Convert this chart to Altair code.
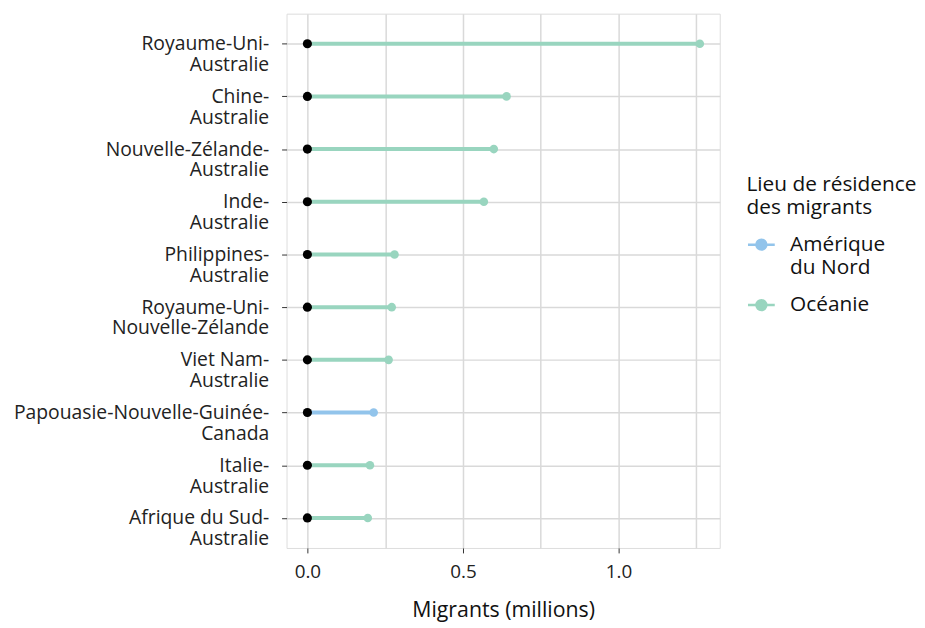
import altair as alt
import pandas as pd

pairs = [
    "Royaume-Uni-|Australie",
    "Chine-|Australie",
    "Nouvelle-Zélande-|Australie",
    "Inde-|Australie",
    "Philippines-|Australie",
    "Royaume-Uni-|Nouvelle-Zélande",
    "Viet Nam-|Australie",
    "Papouasie-Nouvelle-Guinée-|Canada",
    "Italie-|Australie",
    "Afrique du Sud-|Australie",
]
migrants = [1.261, 0.640, 0.599, 0.567, 0.280, 0.271, 0.261, 0.213, 0.201, 0.194]
regions = ["Océanie"] * 7 + ["Amérique du Nord"] + ["Océanie"] * 2
region_domain = ["Amérique du Nord", "Océanie"]
region_colors = ["#92c4eb", "#99d5bf"]
x_grid_values = [0, 0.25, 0.5, 0.75, 1.0, 1.25]

df = pd.DataFrame({"pair": pairs, "value": migrants, "region": regions, "zero": [0.0] * len(pairs)})

FONT = "Open Sans"

y_enc = alt.Y(
    "pair:N",
    sort=None,
    title=None,
    scale=alt.Scale(type="point", padding=0.57),
    axis=alt.Axis(
        labelExpr="split(datum.label, '|')",
        labelFontSize=19.5,
        labelLineHeight=21,
        labelColor="#222222",
        labelPadding=13,
        labelLimit=400,
        tickSize=5,
        tickColor="#333333",
        domain=False,
        grid=True,
        gridColor="#d9d9d9",
        gridWidth=1.5,
        labelFont=FONT,
    ),
)

x_scale = alt.Scale(domain=[-0.067, 1.325], nice=False, zero=False)
x_axis = alt.Axis(
    values=x_grid_values,
    labelExpr="datum.value % 0.5 == 0 ? format(datum.value, '.1f') : ''",
    tickOpacity=alt.condition("datum.value % 0.5 == 0", alt.value(1), alt.value(0)),
    title="Migrants (millions)",
    titleFontSize=21.5,
    titleFontWeight="normal",
    titleFont=FONT,
    titleColor="#111111",
    titlePadding=18,
    labelFontSize=19,
    labelFont=FONT,
    labelColor="#222222",
    labelPadding=10,
    tickSize=5,
    tickColor="#333333",
    domain=False,
    grid=True,
    gridColor="#d9d9d9",
    gridWidth=1.5,
)

color_enc = alt.Color(
    "region:N",
    scale=alt.Scale(domain=region_domain, range=region_colors),
    legend=alt.Legend(
        title=["Lieu de résidence", "des migrants"],
        titleFontSize=21,
        titleFontWeight="normal",
        titleFont=FONT,
        titleColor="#111111",
        titleLineHeight=23,
        titlePadding=12,
        labelFontSize=21,
        labelFont=FONT,
        labelColor="#111111",
        labelLimit=300,
        labelExpr="datum.label == 'Amérique du Nord' ? ['Amérique', 'du Nord'] : datum.label",
        symbolType="M-1,0L1,0M-0.37,0A0.37,0.37,0,1,0,0.37,0A0.37,0.37,0,1,0,-0.37,0Z",
        symbolSize=729,
        symbolStrokeWidth=2.5,
        symbolOpacity=1,
        labelOffset=14,
        rowPadding=12,
        orient="none",
        legendX=464,
        legendY=162,
    ),
)

base = alt.Chart(df)

rules = base.mark_rule(strokeWidth=4).encode(
    x=alt.X("zero:Q", scale=x_scale, axis=x_axis),
    x2="value:Q",
    y=y_enc,
    color=color_enc,
)
ends = base.mark_circle(size=75, opacity=1).encode(
    x=alt.X("value:Q", scale=x_scale, axis=x_axis),
    y=y_enc,
    color=color_enc,
)
starts = base.mark_circle(size=85, opacity=1, color="black").encode(
    x=alt.X("zero:Q", scale=x_scale, axis=x_axis),
    y=y_enc,
)

chart = (
    alt.layer(rules, ends, starts)
    .properties(width=437, height=539)
    .configure_view(stroke="#444444", strokeWidth=1.5)
    .configure(
        padding={"left": 5, "top": 3, "right": 0, "bottom": 2},
        style={"guide-label": {"lineHeight": 24}},
    )
)

chart.save("out.html", embed_options={"renderer": "svg", "actions": False})
